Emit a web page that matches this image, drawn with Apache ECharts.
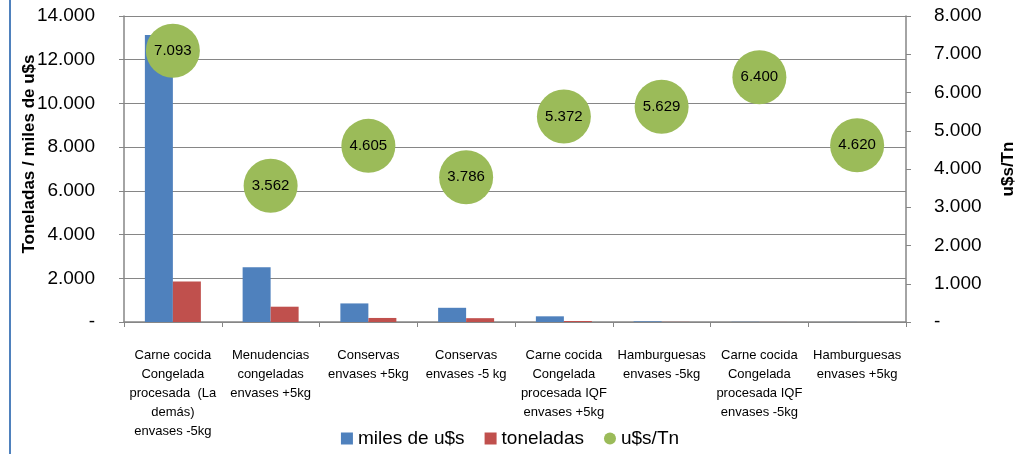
<!DOCTYPE html>
<html><head><meta charset="utf-8">
<script src="https://cdn.jsdelivr.net/npm/echarts@6/dist/echarts.min.js"></script>
<style>html,body{margin:0;padding:0;background:#fff}#c{width:1020px;height:454px}</style>
</head><body><div id="c"></div>
<script>
const categories = [
  "Carne cocida\nCongelada\nprocesada  (La\ndemás)\nenvases -5kg",
  "Menudencias\ncongeladas\nenvases +5kg",
  "Conservas\nenvases +5kg",
  "Conservas\nenvases -5 kg",
  "Carne cocida\nCongelada\nprocesada IQF\nenvases +5kg",
  "Hamburguesas\nenvases -5kg",
  "Carne cocida\nCongelada\nprocesada IQF\nenvases -5kg",
  "Hamburguesas\nenvases +5kg"
];
const milesUSD = [13130, 2510, 850, 650, 260, 30, 8, 4];
const toneladas = [1850, 700, 185, 175, 45, 6, 2, 1];
const usdTn = [7093, 3562, 4605, 3786, 5372, 5629, 6400, 4620];
const leftTitle = 'Toneladas / miles de u$s';
const rightTitle = 'u$s/Tn';

function fmt(v){ if (v === 0) return '-'; return String(Math.round(v)).replace(/\B(?=(\d{3})+(?!\d))/g, '.'); }

const FONT = 'Liberation Sans';
const chart = echarts.init(document.getElementById('c'));
chart.setOption({
  animation: false,
  textStyle: { fontFamily: FONT },
  grid: { left: 124, right: 114, top: 16, bottom: 132 },
  legend: {
    bottom: 1, left: 'center', itemGap: 20, itemWidth: 12, itemHeight: 12,
    textStyle: { fontSize: 19, color: '#000', fontFamily: FONT },
    data: [
      { name: 'miles de u$s', icon: 'rect' },
      { name: 'toneladas', icon: 'rect' },
      { name: 'u$s/Tn', icon: 'circle' }
    ]
  },
  xAxis: {
    type: 'category', data: categories,
    axisLine: { lineStyle: { color: '#868686', width: 1.5 } },
    axisTick: { show: true, length: 5, lineStyle: { color: '#868686' } },
    axisLabel: { interval: 0, color: '#000', fontSize: 13, lineHeight: 19, margin: 24, fontFamily: FONT }
  },
  yAxis: [
    {
      type: 'value', min: 0, max: 14000, interval: 2000,
      axisLine: { show: true, lineStyle: { color: '#868686', width: 1.5 } },
      axisTick: { show: true, length: 5, lineStyle: { color: '#868686' } },
      splitLine: { lineStyle: { color: '#868686', width: 1.2 } },
      axisLabel: { formatter: fmt, color: '#000', fontSize: 19, margin: 29, fontFamily: FONT }
    },
    {
      type: 'value', min: 0, max: 8000, interval: 1000, position: 'right',
      axisLine: { show: true, lineStyle: { color: '#868686', width: 1.5 } },
      axisTick: { show: true, length: 5, lineStyle: { color: '#868686' } },
      splitLine: { show: false },
      axisLabel: { formatter: fmt, color: '#000', fontSize: 19, margin: 28, fontFamily: FONT }
    }
  ],
  series: [
    { name: 'miles de u$s', type: 'bar', data: milesUSD, barWidth: 28, barGap: '0%',
      itemStyle: { color: '#4F81BD' } },
    { name: 'toneladas', type: 'bar', data: toneladas, barWidth: 28,
      itemStyle: { color: '#C0504D' } },
    { name: 'u$s/Tn', type: 'scatter', yAxisIndex: 1, data: usdTn, symbolSize: 54,
      itemStyle: { color: '#9BBB59', opacity: 1 },
      label: { show: true, position: 'inside', formatter: p => fmt(p.value), color: '#000', fontSize: 15, fontFamily: FONT } }
  ],
  graphic: [
    { type: 'line', shape: { x1: 10, y1: 0, x2: 10, y2: 454 }, style: { stroke: '#4F81BD', lineWidth: 2 } },
    { type: 'text', x: 29, y: 154, rotation: Math.PI / 2,
      style: { text: leftTitle, font: 'bold 17px "Liberation Sans"', fill: '#000', align: 'center', verticalAlign: 'middle' } },
    { type: 'text', x: 1008, y: 169, rotation: Math.PI / 2,
      style: { text: rightTitle, font: 'bold 17px "Liberation Sans"', fill: '#000', align: 'center', verticalAlign: 'middle' } }
  ]
});
</script></body></html>
